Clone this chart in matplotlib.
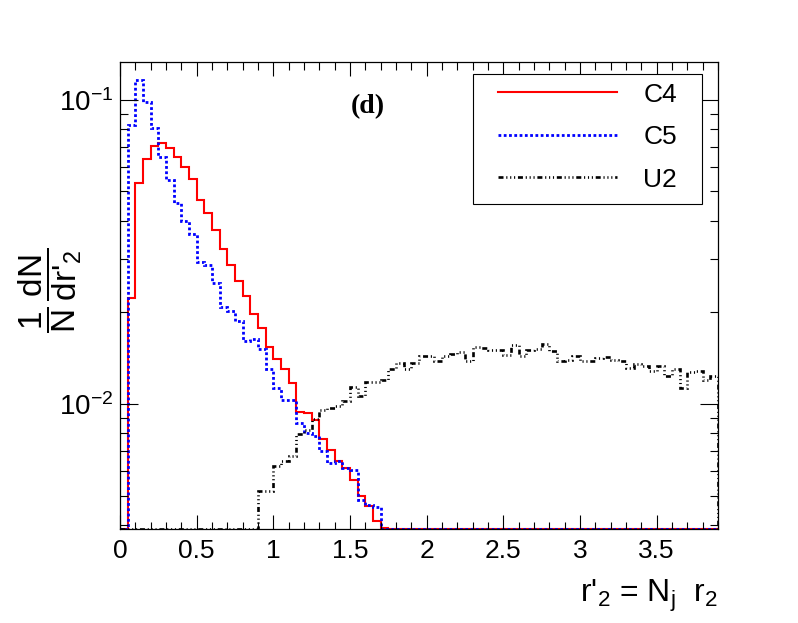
import numpy as np
import matplotlib
matplotlib.use('Agg')
import matplotlib.pyplot as plt
from matplotlib.lines import Line2D
from matplotlib.patches import Rectangle
from matplotlib.ticker import (MultipleLocator, FuncFormatter, LogLocator,
                               NullFormatter, LogFormatterSciNotation)

plt.rcParams['font.family'] = ['Liberation Sans', 'DejaVu Sans']
plt.rcParams['mathtext.fontset'] = 'custom'
plt.rcParams['mathtext.rm'] = 'Liberation Sans'
plt.rcParams['mathtext.it'] = 'Liberation Sans'
plt.rcParams['mathtext.bf'] = 'Liberation Sans:bold'
plt.rcParams['mathtext.sf'] = 'Liberation Sans'
plt.rcParams['lines.scale_dashes'] = False

# ---------------- data (bins of width 0.05 from 0 to 3.9) ----------------
x_min, x_max = 0.0, 3.9
y_min, y_max = 0.00388, 0.1333

c4 = [0, 0.0223, 0.0532, 0.0641, 0.0703, 0.0721, 0.0697, 0.0651, 0.0600, 0.0548,
      0.0469, 0.0426, 0.0374, 0.0324, 0.0287, 0.0253, 0.0226, 0.0197, 0.0178, 0.0154,
      0.0141, 0.0130, 0.0117, 0.00941, 0.00934, 0.00887, 0.00767, 0.00708, 0.00648, 0.00616,
      0.00563, 0.00497, 0.00463, 0.00411, 0.00392] + [0] * 43

c5 = [0, 0.0828, 0.1163, 0.0987, 0.0807, 0.0651, 0.0546, 0.0457, 0.0401, 0.0363,
      0.0294, 0.0287, 0.0250, 0.0208, 0.0202, 0.0187, 0.0161, 0.0163, 0.0152, 0.0130,
      0.0113, 0.0103, 0.0103, 0.00867, 0.00803, 0.00783, 0.00699, 0.00640, 0.00648, 0.00616,
      0.00608, 0.00484, 0.00466, 0.00458] + [0] * 44

u2 = [0] * 18 + [
      0.00519, 0.00517,
      0.00624, 0.00648, 0.00673, 0.00798, 0.00824, 0.00893, 0.00953, 0.00970, 0.00987, 0.0102,
      0.0114, 0.0106, 0.0118, 0.0118, 0.0120, 0.0130, 0.0136, 0.0130, 0.0136, 0.0144,
      0.0144, 0.0139, 0.0144, 0.0146, 0.0148, 0.0138, 0.0154, 0.0153, 0.0150, 0.0151,
      0.0145, 0.0156, 0.0144, 0.0151, 0.0152, 0.0157, 0.0149, 0.0139, 0.0140, 0.0144,
      0.0139, 0.0138, 0.0142, 0.0143, 0.0140, 0.0138, 0.0131, 0.0135, 0.0133, 0.0128,
      0.0133, 0.0124, 0.0130, 0.0113, 0.0127, 0.0128, 0.0120, 0.0124]

series_labels = ['C4', 'C5', 'U2']
x_tick_step, x_minor_step = 0.5, 0.1

# ---------------- figure ----------------
W, H = 798, 623
fig = plt.figure(figsize=(W / 100, H / 100), dpi=100)
ax = fig.add_axes([120 / W, 1 - 529 / H, 598 / W, 467 / H])

edges = np.linspace(x_min, x_max, len(c4) + 1)

styles = [
    dict(color='#ff0000', lw=1.5, ls='-'),
    dict(color='#0000ff', lw=2.0, ls=(0, (2.0, 1.8))),
    dict(color='black', lw=1.9, ls=(0, (3.6, 2.0, 0.8, 2.0, 0.8, 2.0, 0.8, 2.0))),
]

for vals, st in zip([c4, c5, u2], styles):
    v = np.maximum(np.asarray(vals, dtype=float), y_min)
    ax.stairs(v, edges, baseline=y_min, fill=False, edgecolor=st['color'],
              linewidth=st['lw'], linestyle=st['ls'])

ax.set_yscale('log')
ax.set_xlim(x_min, x_max)
ax.set_ylim(y_min, y_max)

ax.xaxis.set_major_locator(MultipleLocator(x_tick_step))
ax.xaxis.set_minor_locator(MultipleLocator(x_minor_step))
ax.xaxis.set_major_formatter(FuncFormatter(lambda v, p: f"{v:g}"))
ax.yaxis.set_major_locator(LogLocator(base=10))
ax.yaxis.set_minor_locator(LogLocator(base=10, subs=np.arange(2, 10)))
ax.yaxis.set_major_formatter(LogFormatterSciNotation())
ax.yaxis.set_minor_formatter(NullFormatter())

ax.tick_params(which='both', direction='in', top=True, right=True, width=0.8)
ax.tick_params(axis='x', which='major', length=10, pad=7.5, labelsize=19)
ax.tick_params(axis='x', which='minor', length=5.4)
ax.tick_params(axis='y', which='major', length=13, pad=5, labelsize=20)
ax.tick_params(axis='y', which='minor', length=5.8)
for s in ax.spines.values():
    s.set_linewidth(0.9)

# axis titles
fig.text(50 / W, 1 - 290 / H, r"$\dfrac{1}{N}\,\dfrac{dN}{dr\text{'}_{2}}$",
         rotation=90, ha='center', va='center', fontsize=24)
fig.text(718 / W, 1 - 601.7 / H, r"r'$_{2}$ = N$_{\mathrm{j}}$  r$_{2}$",
         ha='right', va='baseline', fontsize=23)

# panel tag
fig.text(368 / W, 1 - 106.7 / H, "(d)", family='Liberation Serif',
         weight='bold', ha='center', va='center', fontsize=20)

# legend
ax.add_patch(Rectangle((473 / W, 1 - 204 / H), 229 / W, 130 / H,
                       transform=fig.transFigure, facecolor='white',
                       edgecolor='black', linewidth=0.8, zorder=4, clip_on=False))
handles = [Line2D([], [], color=st['color'], lw=st['lw'], ls=st['ls']) for st in styles]
leg = ax.legend(handles, series_labels, loc='upper left',
                bbox_to_anchor=(498 / W, 1 - 82.6 / H), bbox_transform=fig.transFigure,
                frameon=False, borderpad=0, borderaxespad=0, fontsize=19,
                handlelength=4.5, handletextpad=1.0, labelspacing=0.7)
leg.set_zorder(5)

fig.savefig('out.png', dpi=100)
